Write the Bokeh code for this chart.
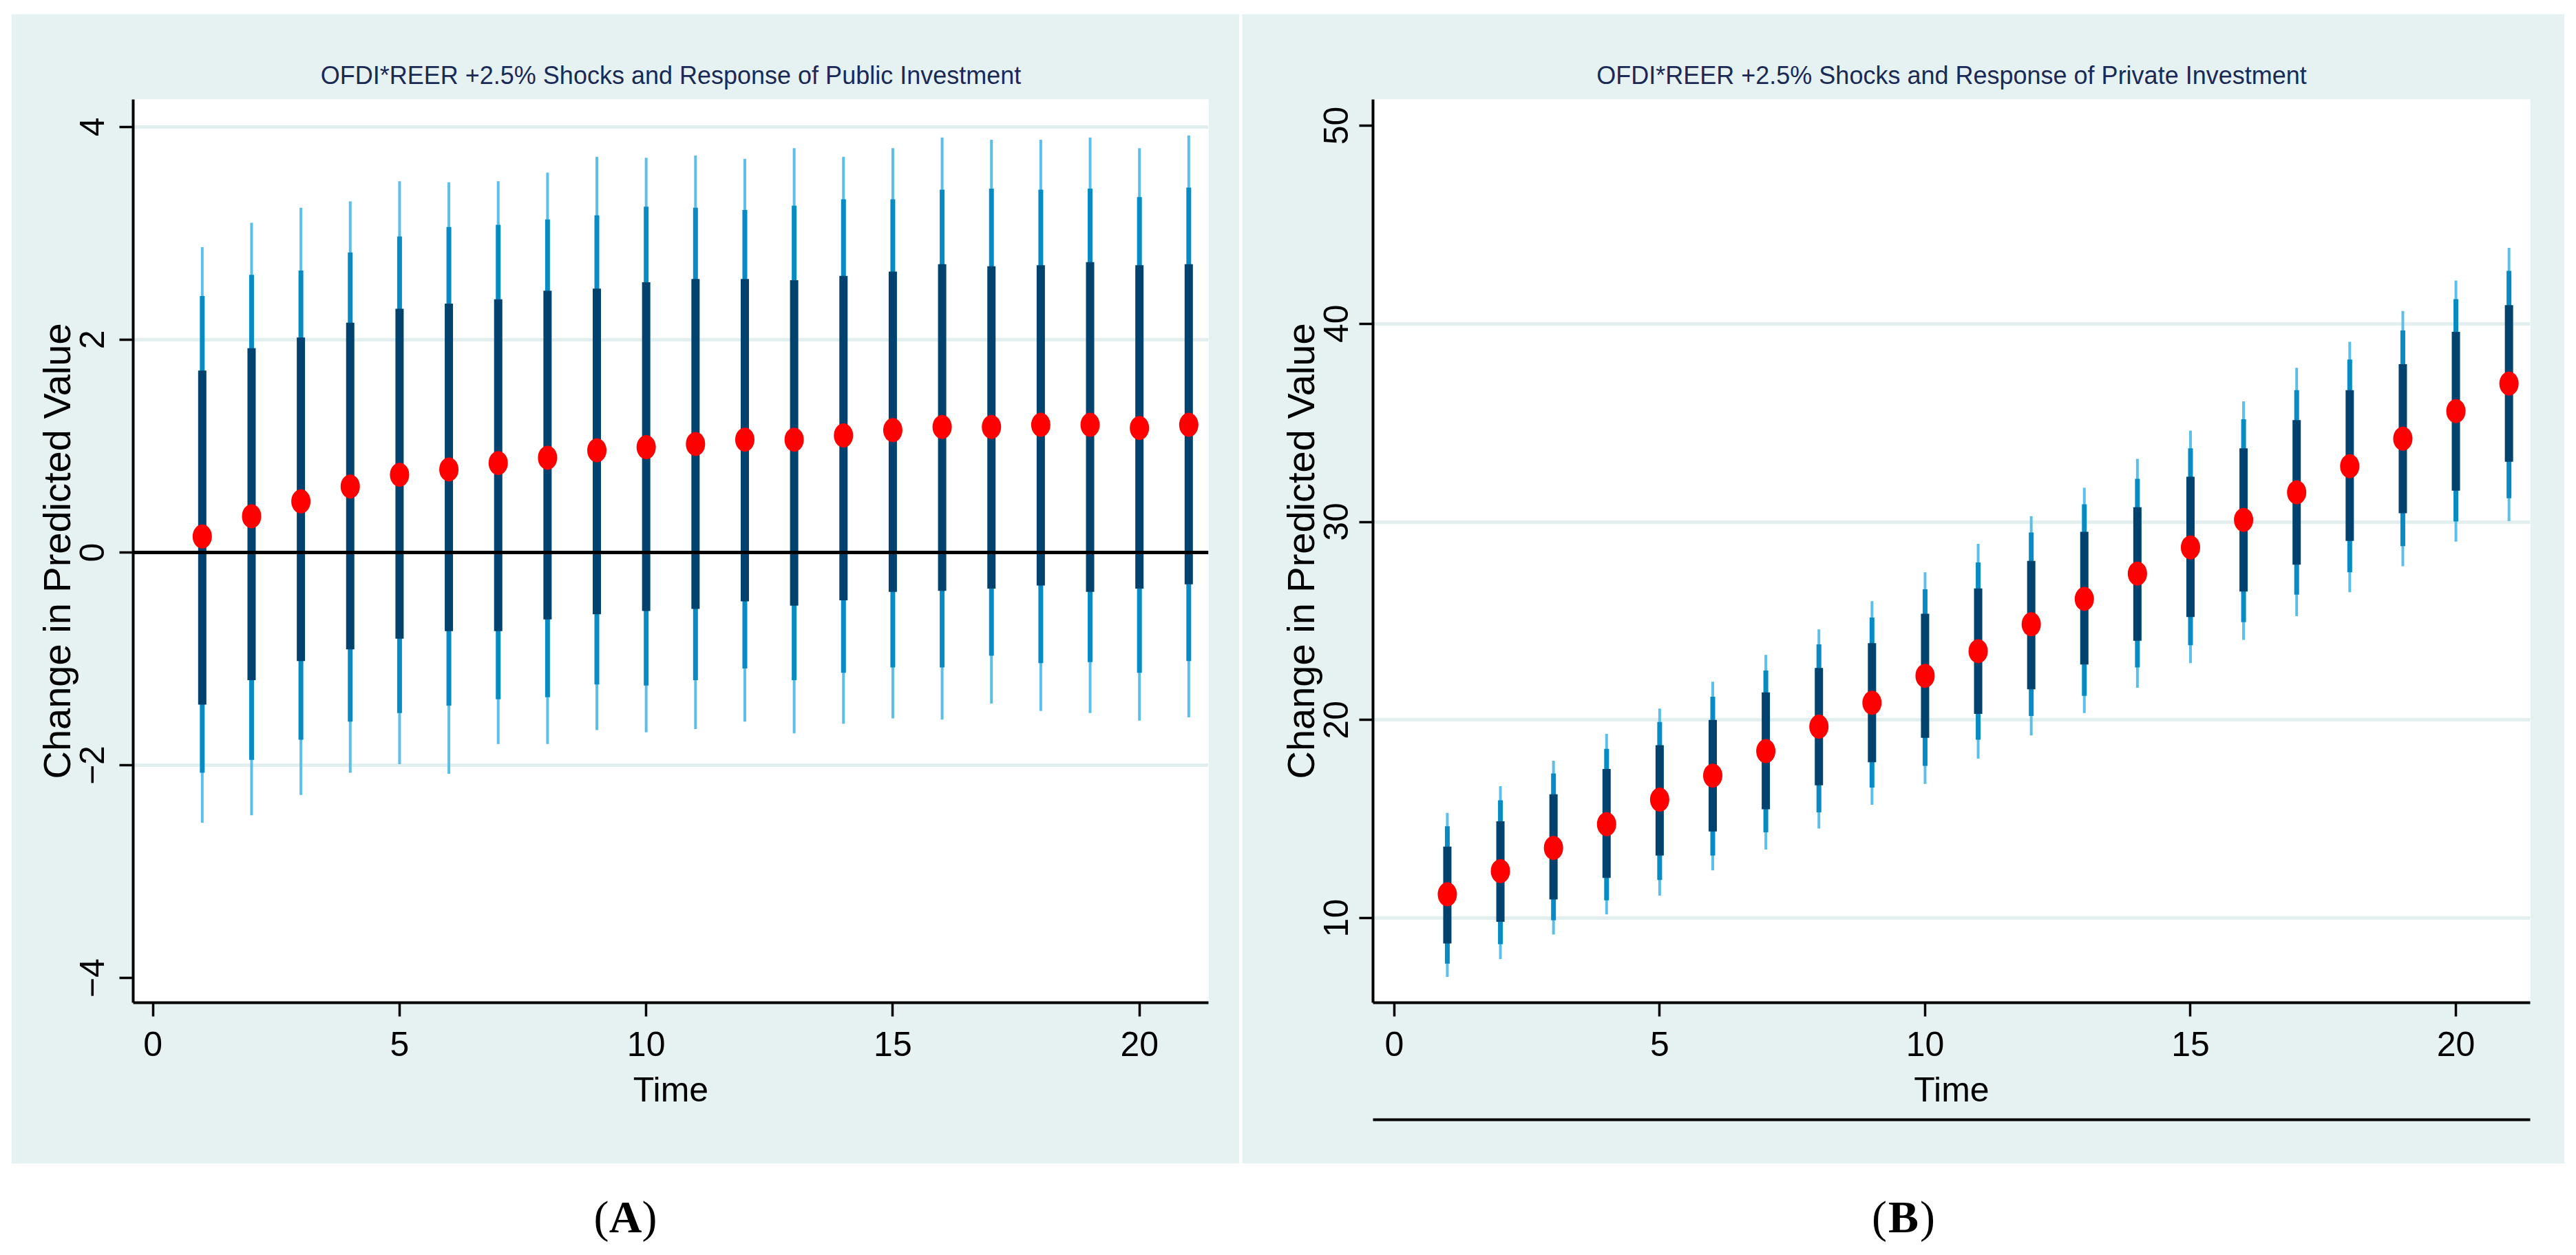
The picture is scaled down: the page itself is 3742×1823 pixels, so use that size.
from bokeh.plotting import figure
from bokeh.models import Range1d, FixedTicker, LinearAxis, Span, ColumnDataSource
from bokeh.layouts import row, column
from bokeh.embed import file_html
from bokeh.resources import INLINE
from bokeh.core.properties import value

# ---------------- data ----------------
time = list(range(1, 22))
x_ticks = [0, 5, 10, 15, 20]

title_public = "OFDI*REER +2.5% Shocks and Response of Public Investment"
title_private = "OFDI*REER +2.5% Shocks and Response of Private Investment"
x_label = "Time"
y_label = "Change in Predicted Value"
panel_labels = ["A", "B"]

# Panel A: public investment
pub_ticks = [-4, -2, 0, 2, 4]
pub_grid = [-2, 2, 4]
pub_mean = [0.15, 0.34, 0.48, 0.62, 0.73, 0.78, 0.84, 0.89, 0.96, 0.99, 1.02,
            1.06, 1.06, 1.10, 1.15, 1.18, 1.18, 1.20, 1.20, 1.17, 1.20]
pub_hi1 = [1.71, 1.92, 2.02, 2.16, 2.29, 2.34, 2.38, 2.46, 2.48, 2.54, 2.57,
           2.57, 2.56, 2.60, 2.64, 2.71, 2.69, 2.70, 2.73, 2.70, 2.71]
pub_lo1 = [-1.43, -1.20, -1.02, -0.91, -0.81, -0.74, -0.74, -0.63, -0.58, -0.55, -0.53,
           -0.46, -0.50, -0.45, -0.37, -0.36, -0.34, -0.31, -0.37, -0.34, -0.30]
pub_hi2 = [2.41, 2.61, 2.65, 2.82, 2.97, 3.06, 3.08, 3.13, 3.17, 3.25, 3.24,
           3.22, 3.26, 3.32, 3.32, 3.41, 3.42, 3.41, 3.42, 3.34, 3.43]
pub_lo2 = [-2.07, -1.95, -1.76, -1.59, -1.51, -1.44, -1.38, -1.36, -1.24, -1.25, -1.20,
           -1.09, -1.20, -1.13, -1.08, -1.08, -0.97, -1.04, -1.03, -1.13, -1.02]
pub_hi3 = [2.87, 3.10, 3.24, 3.30, 3.49, 3.48, 3.49, 3.57, 3.72, 3.71, 3.73,
           3.70, 3.80, 3.72, 3.80, 3.90, 3.88, 3.88, 3.90, 3.80, 3.92]
pub_lo3 = [-2.54, -2.47, -2.28, -2.07, -1.99, -2.08, -1.80, -1.80, -1.67, -1.69, -1.66,
           -1.59, -1.70, -1.61, -1.56, -1.57, -1.42, -1.49, -1.51, -1.58, -1.55]

# Panel B: private investment
priv_ticks = [10, 20, 30, 40, 50]
priv_grid = [10, 20, 30, 40]
priv_mean = [11.20, 12.37, 13.54, 14.74, 15.98, 17.19, 18.43, 19.66, 20.87, 22.23, 23.47,
             24.83, 26.11, 27.39, 28.71, 30.10, 31.49, 32.81, 34.20, 35.59, 36.98]
priv_hi1 = [13.61, 14.89, 16.25, 17.53, 18.73, 20.00, 21.39, 22.63, 23.88, 25.36, 26.64,
            28.03, 29.50, 30.74, 32.28, 33.71, 35.14, 36.65, 37.96, 39.59, 40.94]
priv_lo1 = [8.72, 9.81, 10.94, 12.03, 13.16, 14.37, 15.49, 16.70, 17.87, 19.10, 20.31,
            21.55, 22.80, 24.00, 25.20, 26.48, 27.84, 29.04, 30.44, 31.57, 33.03]
priv_hi2 = [14.63, 15.95, 17.30, 18.54, 19.90, 21.18, 22.50, 23.82, 25.17, 26.60, 27.95,
            29.46, 30.89, 32.17, 33.71, 35.18, 36.65, 38.19, 39.66, 41.24, 42.67]
priv_lo2 = [7.70, 8.68, 9.89, 10.90, 11.92, 13.16, 14.33, 15.34, 16.59, 17.68, 19.00,
            20.20, 21.22, 22.65, 23.77, 24.94, 26.33, 27.46, 28.78, 30.02, 31.19]
priv_hi3 = [15.31, 16.66, 17.94, 19.30, 20.58, 21.93, 23.29, 24.57, 26.00, 27.46, 28.89,
            30.29, 31.72, 33.18, 34.61, 36.08, 37.78, 39.09, 40.64, 42.18, 43.83]
priv_lo3 = [7.03, 7.93, 9.17, 10.19, 11.13, 12.41, 13.46, 14.52, 15.72, 16.77, 18.05,
            19.22, 20.35, 21.63, 22.87, 24.04, 25.24, 26.45, 27.76, 29.00, 30.04]

# ---------------- style ----------------
BG = "#e6f1f1"
GRID = "#e3efef"
DARK = "#01436e"
MID = "#078bc4"
LIGHT = "#5cbfe9"
RED = "#ff0000"
TITLE_COLOR = "#1a2a57"
FONT = "Liberation Sans"


def style_axis(ax, font_size, label_size):
    ax.major_tick_in = 0
    ax.major_tick_out = 20
    ax.minor_tick_in = 0
    ax.minor_tick_out = 0
    ax.minor_tick_line_color = None
    ax.major_tick_line_width = 3.5
    ax.major_tick_line_color = "black"
    ax.axis_line_width = 4
    ax.axis_line_color = "black"
    ax.major_label_text_font = FONT
    ax.major_label_text_font_size = font_size
    ax.major_label_text_color = "black"
    ax.axis_label_text_font = FONT
    ax.axis_label_text_font_size = label_size
    ax.axis_label_text_font_style = "normal"
    ax.axis_label_text_color = "black"


def make_panel(title, mean, lo1, hi1, lo2, hi2, lo3, hi3, yr, yticks, ygrid,
               width, height, bl, br, bt, bb, ystand, margin,
               zero_line=False, bottom_rule=False):
    p = figure(width=width, height=height, title=title,
               x_range=Range1d(-0.40, 21.40), y_range=Range1d(*yr),
               output_backend="svg", toolbar_location=None,
               min_border_left=bl, min_border_right=br,
               min_border_top=bt, min_border_bottom=bb)
    p.margin = margin
    p.background_fill_color = "white"
    p.border_fill_color = BG
    p.outline_line_color = None

    p.title.align = "center"
    p.title.text_font = FONT
    p.title.text_font_size = "36px"
    p.title.text_font_style = "normal"
    p.title.text_color = TITLE_COLOR
    p.title.standoff = 30

    xa = p.xaxis[0]
    style_axis(xa, "50px", "50px")
    xa.ticker = FixedTicker(ticks=x_ticks)
    xa.axis_label = x_label
    xa.major_label_standoff = 22
    xa.axis_label_standoff = 18

    ya = p.yaxis[0]
    style_axis(ya, "50px", "56px")
    ya.ticker = FixedTicker(ticks=yticks)
    ya.major_label_orientation = "vertical"
    ya.axis_label = y_label
    ya.major_label_standoff = ystand
    ya.axis_label_standoff = 0

    p.xgrid.visible = False
    p.ygrid.ticker = FixedTicker(ticks=ygrid)
    p.ygrid.grid_line_color = GRID
    p.ygrid.grid_line_width = 5

    src = ColumnDataSource(dict(t=time, m=mean, lo1=lo1, hi1=hi1,
                                lo2=lo2, hi2=hi2, lo3=lo3, hi3=hi3))
    p.segment(x0="t", y0="lo3", x1="t", y1="hi3", source=src,
              line_color=LIGHT, line_width=4)
    p.segment(x0="t", y0="lo2", x1="t", y1="hi2", source=src,
              line_color=MID, line_width=7)
    p.segment(x0="t", y0="lo1", x1="t", y1="hi1", source=src,
              line_color=DARK, line_width=12)
    if zero_line:
        p.add_layout(Span(location=0, dimension="width", line_color="black",
                          line_width=5))
    p.ellipse(x="t", y="m", width=28, height=35, width_units="screen",
              height_units="screen", source=src, fill_color=RED,
              line_color=None)

    if bottom_rule:
        gap_axis = LinearAxis(ticker=FixedTicker(ticks=[]), axis_line_color=None,
                              major_tick_out=0, major_tick_in=0,
                              major_tick_line_color=None, minor_tick_out=0,
                              minor_tick_in=0, minor_tick_line_color=None,
                              major_label_text_font_size="0px",
                              axis_label="\u00a0", axis_label_text_font_size="9px",
                              axis_label_standoff=0)
        rule_axis = LinearAxis(ticker=FixedTicker(ticks=[]), axis_line_color="black",
                               axis_line_width=4, major_tick_out=0, major_tick_in=0,
                               major_tick_line_color=None, minor_tick_out=0,
                               minor_tick_in=0, minor_tick_line_color=None,
                               major_label_text_font_size="0px")
        p.add_layout(gap_axis, "below")
        p.add_layout(rule_axis, "below")
    return p


def make_label(letter, width, margin, height=125, ypos=77):
    p = figure(width=width, height=height, x_range=Range1d(0, 1),
               y_range=Range1d(height, 0), output_backend="svg",
               toolbar_location=None, min_border=0,
               x_axis_type=None, y_axis_type=None)
    p.margin = margin
    p.grid.visible = False
    p.outline_line_color = None
    p.background_fill_color = "white"
    p.border_fill_color = "white"
    common = dict(text_font=value("Liberation Serif"), text_font_size="66px",
                  text_baseline="middle", text_color="black")
    p.text(x=[0.5], y=[ypos], text=[letter], text_align="center",
           text_font_style="bold", **common)
    p.text(x=[0.5], y=[ypos], text=["("], text_align="right", x_offset=-24,
           **common)
    p.text(x=[0.5], y=[ypos], text=[")"], text_align="left", x_offset=24,
           **common)
    return p


pA = make_panel(title_public, pub_mean, pub_lo1, pub_hi1, pub_lo2, pub_hi2,
                pub_lo3, pub_hi3, (-4.232, 4.258), pub_ticks, pub_grid,
                width=1784, height=1670, bl=177, br=45, bt=124, bb=228,
                ystand=22, margin=(20, 0, 0, 16), zero_line=True)
pB = make_panel(title_private, priv_mean, priv_lo1, priv_hi1, priv_lo2, priv_hi2,
                priv_lo3, priv_hi3, (5.73, 51.32), priv_ticks, priv_grid,
                width=1921, height=1670, bl=190, br=50, bt=124, bb=234,
                ystand=16, margin=(20, 0, 0, 4), bottom_rule=True)

lA = make_label(panel_labels[0], 1784, margin=(0, 0, 0, 16))
lB = make_label(panel_labels[1], 1921, margin=(0, 0, 0, 4))

layout = column(row(pA, pB), row(lA, lB))

open("out.html", "w").write(file_html(layout, INLINE))
